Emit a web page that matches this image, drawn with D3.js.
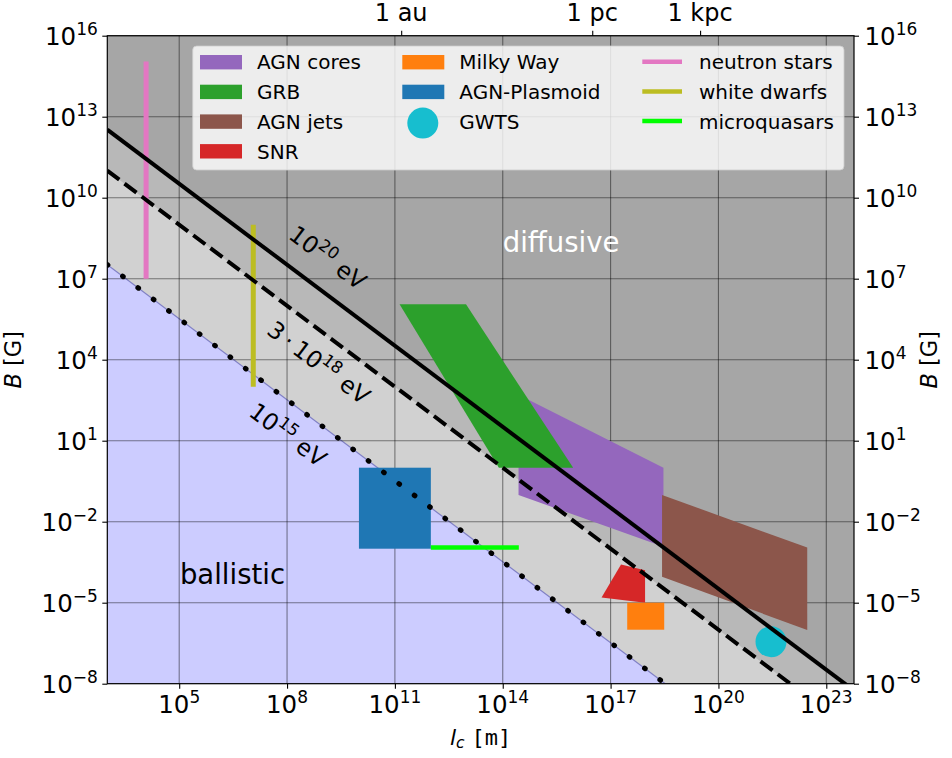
<!DOCTYPE html>
<meta charset="utf-8">
<script src="https://d3js.org/d3.v7.min.js"></script>
<style>
  body { margin: 0; background: #fff; }
  text { font-family: "DejaVu Sans", sans-serif; fill: #000; }
</style>
<div id="chart"></div>
<script>

// tick values
var xTicks = [1e5, 1e8, 1e11, 1e14, 1e17, 1e20, 1e23];
var yTicks = [1e-8, 1e-5, 1e-2, 1e1, 1e4, 1e7, 1e10, 1e13, 1e16];
var topTicks = [1.496e11, 3.086e16, 3.086e19];
var topLabels = ["1 au", "1 pc", "1 kpc"];

// Hillas lines, two end points [l (m), B (G)]
var hillas20 = [[1e3, 3.3e12], [1e24, 3.3e-9]];
var hillas18 = [[1e3, 1.0e11], [1e24, 1.0e-10]];
var hillas15 = [[1e3, 3.3e7], [1e24, 3.3e-14]];

// source regions [l (m), B (G)]
var agnCores = [[2.75e14, 500], [2.95e18, 1.0], [2.95e18, 1.17e-3], [2.75e14, 0.098]];
var grb = [[1.35e11, 1.12e6], [9.5e12, 1.12e6], [9.1e15, 1.0], [7.8e13, 1.0]];
var agnJets = [[2.7e18, 0.098], [2.95e22, 1.1e-3], [2.95e22, 9.8e-7], [2.7e18, 9.1e-5]];
var snr = [[1.95e17, 2.6e-4], [9.1e17, 1.6e-4], [9.1e17, 1.0e-5], [5.6e16, 1.55e-5]];
var milkyWay = [[2.9e17, 1e-6], [3.1e18, 1e-5]];
var agnPlasmoid = [[1e10, 1e-3], [1e12, 1]];
var gwts = [[2.9e21, 3.6e-7]];
var neutronStars = [[1.2e4, 1e7], [1.2e4, 1.1e15]];
var whiteDwarfs = [[1.15e7, 1e3], [1.15e7, 1e9]];
var microquasars = [[1e12, 1.1e-3], [2.8e14, 1.1e-3]];

// legend names
var patchNames = ["AGN cores", "GRB", "AGN jets", "SNR", "Milky Way", "AGN-Plasmoid", "GWTS"];
var lineNames = ["neutron stars", "white dwarfs", "microquasars"];

var colors = {
  "AGN cores": "#9467bd", "GRB": "#2ca02c", "AGN jets": "#8c564b", "SNR": "#d62728",
  "Milky Way": "#ff7f0e", "AGN-Plasmoid": "#1f77b4", "GWTS": "#17becf",
  "neutron stars": "#e377c2", "white dwarfs": "#bcbd22", "microquasars": "#00ff00"
};

// dimensions
var margin = {top: 35.7, right: 98, bottom: 74.3, left: 107.3},
    width = 952 - margin.left - margin.right,
    height = 758 - margin.top - margin.bottom;

var svg = d3.select("#chart")
  .append("svg")
    .attr("width", 952)
    .attr("height", 758)
  .append("g")
    .attr("transform", "translate(" + margin.left + "," + margin.top + ")");

var x = d3.scaleLog().domain([1e3, 5.9e23]).range([0, width]);
var y = d3.scaleLog().domain([1e-8, 1e16]).range([height, 0]);

var line = d3.line().x(function(d) { return x(d[0]); }).y(function(d) { return y(d[1]); });

svg.append("clipPath").attr("id", "plot")
  .append("rect").attr("width", width).attr("height", height);

var plot = svg.append("g").attr("clip-path", "url(#plot)");

// background regions
plot.append("rect").attr("width", width).attr("height", height).attr("fill", "#a6a6a6");

function below(pts) {
  return pts.concat([[pts[1][0], 1e-20], [pts[0][0], 1e-20]]);
}
plot.append("path").attr("d", line(below(hillas20)) + "Z").attr("fill", "#b8b8b8");
plot.append("path").attr("d", line(below(hillas18)) + "Z").attr("fill", "#d1d1d1");
plot.append("path").attr("d", line(below(hillas15)) + "Z").attr("fill", "#ccccff");
plot.append("path").attr("d", line(hillas15))
  .attr("stroke", "#8080c4").attr("stroke-width", 1.2).attr("fill", "none");

// grid
plot.selectAll(".gx").data(xTicks).enter().append("line")
  .attr("x1", function(d) { return x(d); }).attr("x2", function(d) { return x(d); })
  .attr("y1", 0).attr("y2", height)
  .attr("stroke", "rgba(0,0,0,0.45)").attr("stroke-width", 1.1);
plot.selectAll(".gy").data(yTicks).enter().append("line")
  .attr("y1", function(d) { return y(d); }).attr("y2", function(d) { return y(d); })
  .attr("x1", 0).attr("x2", width)
  .attr("stroke", "rgba(0,0,0,0.45)").attr("stroke-width", 1.1);

// source regions
plot.append("path").attr("d", line(agnCores) + "Z").attr("fill", colors["AGN cores"]);
plot.append("path").attr("d", line(grb) + "Z").attr("fill", colors["GRB"]);
plot.append("path").attr("d", line(agnJets) + "Z").attr("fill", colors["AGN jets"]);
plot.append("path").attr("d", line(snr) + "Z").attr("fill", colors["SNR"]);

function box(c, name) {
  plot.append("rect")
    .attr("x", x(c[0][0])).attr("y", y(c[1][1]))
    .attr("width", x(c[1][0]) - x(c[0][0]))
    .attr("height", y(c[0][1]) - y(c[1][1]))
    .attr("fill", colors[name]);
}
box(milkyWay, "Milky Way");
box(agnPlasmoid, "AGN-Plasmoid");

plot.selectAll(".gwts").data(gwts).enter().append("circle")
  .attr("cx", function(d) { return x(d[0]); })
  .attr("cy", function(d) { return y(d[1]); })
  .attr("r", 15.5)
  .attr("fill", colors["GWTS"]);

plot.append("path").attr("d", line(neutronStars))
  .attr("stroke", colors["neutron stars"]).attr("stroke-width", 5).attr("fill", "none");
plot.append("path").attr("d", line(whiteDwarfs))
  .attr("stroke", colors["white dwarfs"]).attr("stroke-width", 5).attr("fill", "none");
plot.append("path").attr("d", line(microquasars))
  .attr("stroke", colors["microquasars"]).attr("stroke-width", 4.5).attr("fill", "none");

// Hillas lines
plot.append("path").attr("d", line(hillas20))
  .attr("stroke", "#000").attr("stroke-width", 4).attr("fill", "none");
plot.append("path").attr("d", line(hillas18))
  .attr("stroke", "#000").attr("stroke-width", 4).attr("fill", "none")
  .attr("stroke-dasharray", "15,6.5");
plot.append("path").attr("d", line(hillas15))
  .attr("stroke", "#000").attr("stroke-width", 5.2).attr("fill", "none")
  .attr("stroke-linecap", "round").attr("stroke-dasharray", "0.6,18.6");

// helper: text with superscripts, parts = [[string, isSup], ...]
function richText(sel, parts, size, supSize, rise) {
  parts.forEach(function(p, i) {
    var t = sel.append("tspan").text(p[0]);
    if (p[1]) {
      t.attr("font-size", supSize).attr("dy", -rise);
    } else {
      t.attr("font-size", size);
      if (i > 0 && parts[i - 1][1]) t.attr("dy", rise);
    }
  });
  return sel;
}
function expo(v) {
  var e = Math.round(Math.log10(v));
  return (e < 0 ? "\u2212" : "") + Math.abs(e);
}

// line labels
var angle = Math.atan2(y(hillas20[1][1]) - y(hillas20[0][1]), x(hillas20[1][0]) - x(hillas20[0][0])) * 180 / Math.PI;
function lineLabel(l, B, parts) {
  var t = svg.append("text")
    .attr("transform", "translate(" + x(l) + "," + y(B) + ") rotate(" + angle + ")")
    .attr("text-anchor", "middle").attr("y", 8);
  richText(t, parts, 23.5, 16.5, 10);
}
lineLabel(Math.pow(10, 9.13), Math.pow(10, 7.77), [["10", false], ["20", true], [" eV", false]]);
lineLabel(Math.pow(10, 8.88), Math.pow(10, 3.88), [["3\u2009\u00b7\u200910", false], ["18", true], [" eV", false]]);
lineLabel(Math.pow(10, 8.02), Math.pow(10, 1.21), [["10", false], ["15", true], [" eV", false]]);

// region labels
svg.append("text").attr("x", x(Math.pow(10, 14.0))).attr("y", y(Math.pow(10, 8.0)))
  .attr("font-size", 27.5).style("fill", "#fff").text("diffusive");
svg.append("text").attr("x", x(Math.pow(10, 5.02))).attr("y", y(Math.pow(10, -4.31)))
  .attr("font-size", 27.5).text("ballistic");

// axes ticks
svg.append("g").attr("transform", "translate(0," + height + ")")
  .call(d3.axisBottom(x).tickValues(xTicks).tickSize(5).tickFormat(""))
  .call(function(g) { g.select(".domain").remove(); });
svg.append("g")
  .call(d3.axisLeft(y).tickValues(yTicks).tickSize(5).tickFormat(""))
  .call(function(g) { g.select(".domain").remove(); });
svg.append("g").attr("transform", "translate(" + width + ",0)")
  .call(d3.axisRight(y).tickValues(yTicks).tickSize(5).tickFormat(""))
  .call(function(g) { g.select(".domain").remove(); });
svg.append("g")
  .call(d3.axisTop(x).tickValues(topTicks).tickSize(5).tickFormat(""))
  .call(function(g) { g.select(".domain").remove(); });
svg.selectAll(".tick line").attr("stroke-width", 1.1);

// tick labels
xTicks.forEach(function(v) {
  var t = svg.append("text").attr("x", x(v)).attr("y", height + 29.6).attr("text-anchor", "middle");
  richText(t, [["10", false], [expo(v), true]], 24.5, 17, 10);
});
yTicks.forEach(function(v) {
  var t = svg.append("text").attr("x", -9.5).attr("y", y(v) + 9).attr("text-anchor", "end");
  richText(t, [["10", false], [expo(v), true]], 24.5, 17, 10);
  var r = svg.append("text").attr("x", width + 10.5).attr("y", y(v) + 9).attr("text-anchor", "start");
  richText(r, [["10", false], [expo(v), true]], 24.5, 17, 10);
});
topTicks.forEach(function(v, i) {
  svg.append("text").attr("x", x(v)).attr("y", -14.5).attr("text-anchor", "middle")
    .attr("font-size", 24).text(topLabels[i]);
});

// axis labels
var xl = svg.append("text").attr("x", width / 2).attr("y", height + 61).attr("text-anchor", "middle");
xl.append("tspan").attr("font-size", 22).attr("font-style", "italic").text("l");
xl.append("tspan").attr("font-size", 15.5).attr("font-style", "italic").attr("dy", 3.5).text("c");
xl.append("tspan").attr("font-size", 22).attr("dy", -3.5).text(" ");
xl.append("tspan").attr("font-size", 22).style("font-family", "DejaVu Sans Mono").text("[m]");

[[-86, -1], [width + 83, 1]].forEach(function(p) {
  var t = svg.append("text")
    .attr("transform", "translate(" + (p[0]) + "," + (height / 2) + ") rotate(-90)")
    .attr("text-anchor", "middle").attr("font-size", 22.5);
  t.append("tspan").attr("font-style", "italic").text("B");
  t.append("tspan").text(" [G]");
});

// frame
svg.append("rect").attr("width", width).attr("height", height)
  .attr("fill", "none").attr("stroke", "#000").attr("stroke-width", 1.2);

// legend
var leg = svg.append("g").attr("transform", "translate(" + (-margin.left) + "," + (-margin.top) + ")");
leg.append("rect").attr("x", 192.7).attr("y", 46).attr("width", 651.3).attr("height", 124)
  .attr("rx", 4).attr("fill", "rgba(255,255,255,0.8)").attr("stroke", "rgba(204,204,204,0.8)");

var rowY = [62.2, 91.9, 121.6, 151.3];
patchNames.forEach(function(name, i) {
  var col = i < 4 ? 0 : 1, row = i < 4 ? i : i - 4;
  var px = col === 0 ? 200 : 402.3;
  if (name === "GWTS") {
    leg.append("circle").attr("cx", px + 20.5).attr("cy", rowY[row] + 1.5).attr("r", 15.5)
      .attr("fill", colors[name]);
  } else {
    leg.append("rect").attr("x", px).attr("y", rowY[row] - 7.2).attr("width", 42).attr("height", 14.4)
      .attr("fill", colors[name]);
  }
  leg.append("text").attr("x", px + 57).attr("y", rowY[row] + 7.2).attr("font-size", 20).text(name);
});
lineNames.forEach(function(name, i) {
  leg.append("line").attr("x1", 642.3).attr("x2", 682).attr("y1", rowY[i] - 0.5).attr("y2", rowY[i] - 0.5)
    .attr("stroke", colors[name]).attr("stroke-width", 4.5);
  leg.append("text").attr("x", 699).attr("y", rowY[i] + 7.2).attr("font-size", 20).text(name);
});

</script>
